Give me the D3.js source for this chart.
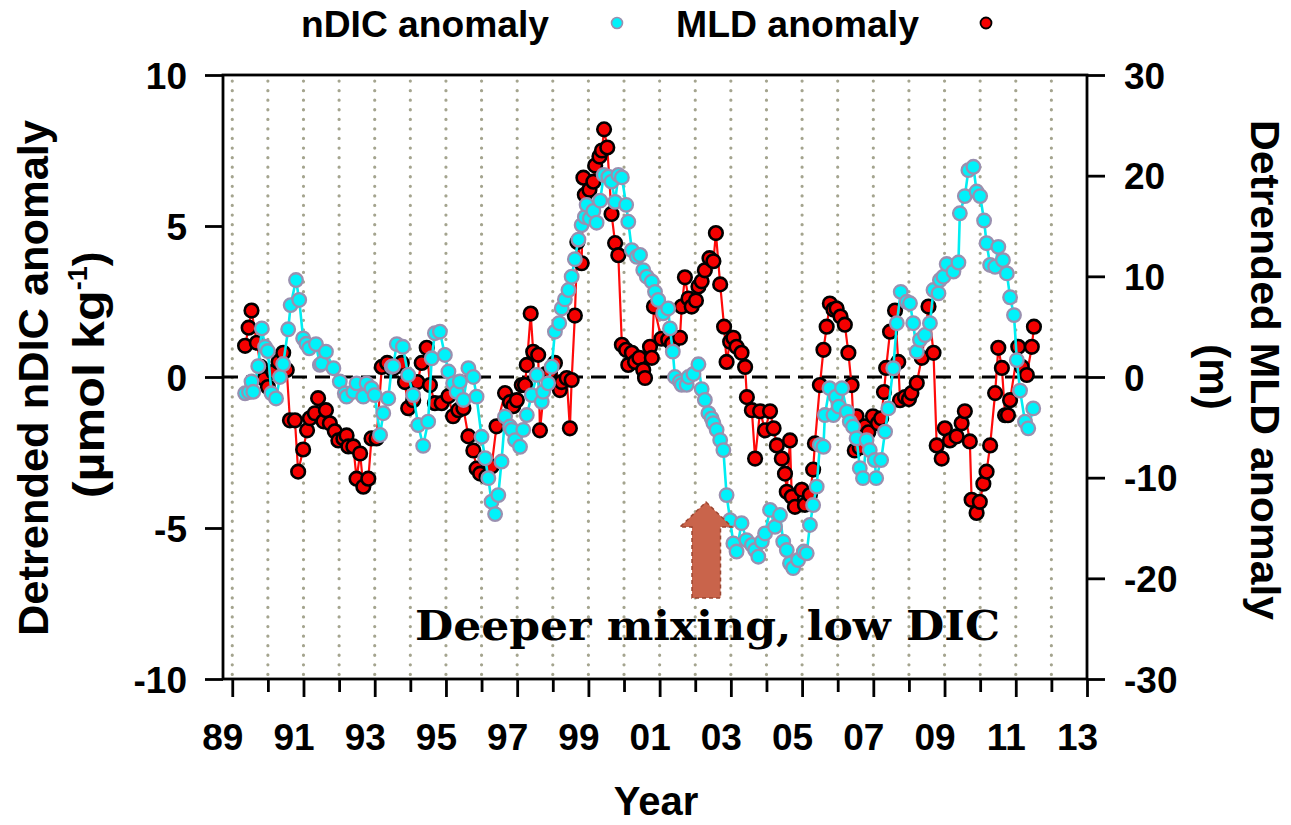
<!DOCTYPE html>
<html>
<head>
<meta charset="utf-8">
<script src="https://cdn.jsdelivr.net/npm/d3@7"></script>
<style>
  body { margin: 0; background: #ffffff; }
  svg { display: block; }
</style>
</head>
<body>
<svg id="chart" width="1291" height="825"></svg>
<script>
// Detrended nDIC anomaly (µmol kg-1): decimal year, value
const ndicYear = [
  1989.36, 1989.47, 1989.54, 1989.59, 1989.73, 1989.83, 1989.92, 1990.00, 1990.10, 1990.23,
  1990.34, 1990.43, 1990.57, 1990.64, 1990.79, 1990.88, 1990.99, 1991.08, 1991.16, 1991.35,
  1991.46, 1991.51, 1991.63, 1991.84, 1992.02, 1992.16, 1992.21, 1992.40, 1992.49, 1992.68,
  1992.77, 1992.91, 1993.00, 1993.15, 1993.24, 1993.38, 1993.48, 1993.52, 1993.62, 1993.79,
  1993.94, 1994.08, 1994.22, 1994.36, 1994.50, 1994.60, 1994.69, 1994.83, 1994.97, 1995.07,
  1995.20, 1995.30, 1995.39, 1995.49, 1995.63, 1995.77, 1995.86, 1996.00, 1996.10, 1996.19,
  1996.28, 1996.38, 1996.47, 1996.56, 1996.66, 1996.80, 1996.85, 1996.94, 1997.08, 1997.17,
  1997.27, 1997.41, 1997.55, 1997.69, 1997.73, 1997.87, 1997.97, 1998.06, 1998.18, 1998.25,
  1998.34, 1998.44, 1998.53, 1998.62, 1998.72, 1998.81, 1998.90, 1998.95, 1999.04, 1999.14,
  1999.23, 1999.33, 1999.43, 1999.56, 1999.65, 1999.75, 1999.84, 1999.94, 2000.06, 2000.12,
  2000.22, 2000.36, 2000.45, 2000.54, 2000.64, 2000.78, 2000.87, 2000.96, 2001.10, 2001.24,
  2001.29, 2001.37, 2001.43, 2001.57, 2001.62, 2001.76, 2001.81, 2001.95, 2002.09, 2002.18,
  2002.27, 2002.37, 2002.46, 2002.51, 2002.60, 2002.70, 2002.79, 2002.88, 2002.98, 2003.07,
  2003.16, 2003.30, 2003.44, 2003.59, 2003.68, 2003.77, 2003.87, 2003.96, 2004.10, 2004.24,
  2004.38, 2004.47, 2004.57, 2004.66, 2004.75, 2004.89, 2005.05, 2005.13, 2005.22, 2005.31,
  2005.41, 2005.50, 2005.60, 2005.64, 2005.77, 2005.88, 2005.95, 2006.03, 2006.12, 2006.26,
  2006.34, 2006.43, 2006.53, 2006.62, 2006.71, 2006.81, 2006.90, 2007.04, 2007.08, 2007.22,
  2007.33, 2007.42, 2007.56, 2007.66, 2007.77, 2007.94, 2008.03, 2008.12, 2008.22, 2008.31,
  2008.45, 2008.59, 2008.69, 2008.83, 2008.87, 2008.97, 2009.06, 2009.25, 2009.39, 2009.43,
  2009.57, 2009.67, 2009.81, 2009.90, 2010.00, 2010.11, 2010.18, 2010.28, 2010.42, 2010.51,
  2010.64, 2010.75, 2010.84, 2010.95, 2011.03, 2011.12, 2011.26, 2011.35, 2011.49
];
const ndicValue = [
  -0.54, -0.50, -0.15, -0.49, 0.36, 1.61, 1.00, 0.86, -0.54, -0.71,
  0.00, 0.43, 1.58, 2.38, 3.21, 2.55, 1.28, 1.10, 0.95, 1.09,
  0.40, 0.45, 0.84, 0.29, -0.15, -0.54, -0.65, -0.49, -0.21, -0.65,
  -0.21, -0.37, -0.60, -1.92, -1.20, -0.71, 0.34, 0.36, 1.09, 1.00,
  0.07, -0.60, -1.59, -2.28, -1.48, 0.62, 1.45, 1.50, 0.73, 0.18,
  -0.21, -0.49, -0.15, -0.76, 0.29, 0.00, -0.65, -1.98, -2.69, -3.35,
  -4.13, -4.54, -3.91, -2.80, -1.31, -1.64, -1.75, -2.09, -2.31, -1.75,
  -1.26, -0.60, 0.07, -0.82, -0.49, -0.21, 0.34, 1.50, 1.78, 2.27,
  2.57, 2.88, 3.32, 3.90, 4.55, 5.03, 5.30, 5.70, 5.25, 5.50,
  5.11, 5.84, 6.69, 6.63, 6.47, 5.80, 6.69, 6.61, 5.70, 5.14,
  4.20, 3.98, 4.04, 3.54, 3.32, 3.16, 2.82, 2.55, 2.11, 2.27,
  1.61, 0.84, 0.00, -0.15, -0.26, -0.26, 0.00, 0.10, 0.42, -0.40,
  -0.76, -1.20, -1.37, -1.53, -1.75, -2.09, -2.42, -3.91, -4.74, -5.51,
  -5.78, -4.84, -5.40, -5.56, -5.73, -5.95, -5.45, -5.18, -4.40, -4.96,
  -4.57, -5.45, -5.73, -6.17, -6.33, -6.06, -5.78, -5.84, -4.90, -4.24,
  -3.63, -2.25, -2.31, -1.26, -0.37, -1.26, -0.65, -0.98, -0.37, -1.15,
  -1.48, -1.64, -2.03, -3.02, -3.35, -2.09, -2.42, -2.75, -3.35, -2.75,
  -1.81, -1.04, 0.29, 1.78, 2.82, 2.49, 2.44, 1.78, 0.84, 1.23,
  1.39, 1.78, 2.88, 2.77, 3.21, 3.32, 3.74, 3.49, 3.79, 5.42,
  5.99, 6.85, 6.96, 6.14, 5.99, 5.18, 4.43, 3.71, 3.65, 4.31,
  3.87, 3.43, 2.64, 2.05, 0.56, -0.45, -1.48, -1.70, -1.04
];

// Detrended MLD anomaly (m): decimal year, value
const mldYear = [
  1989.36, 1989.46, 1989.54, 1989.69, 1989.80, 1989.90, 1990.00, 1990.15, 1990.30, 1990.43,
  1990.53, 1990.62, 1990.76, 1990.85, 1990.99, 1991.10, 1991.18, 1991.32, 1991.41, 1991.56,
  1991.63, 1991.74, 1991.88, 1991.98, 1992.12, 1992.21, 1992.26, 1992.40, 1992.49, 1992.59,
  1992.68, 1992.82, 1992.91, 1993.05, 1993.20, 1993.35, 1993.50, 1993.65, 1993.76, 1993.85,
  1993.94, 1994.08, 1994.20, 1994.32, 1994.46, 1994.55, 1994.69, 1994.88, 1995.07, 1995.20,
  1995.35, 1995.49, 1995.63, 1995.77, 1995.86, 1995.96, 1996.14, 1996.28, 1996.42, 1996.66,
  1996.80, 1996.89, 1996.99, 1997.13, 1997.22, 1997.27, 1997.38, 1997.45, 1997.59, 1997.64,
  1997.80, 1997.92, 1998.06, 1998.20, 1998.25, 1998.39, 1998.48, 1998.53, 1998.62, 1998.69,
  1998.81, 1998.86, 1998.90, 1999.03, 1999.14, 1999.19, 1999.31, 1999.38, 1999.44, 1999.53,
  1999.65, 1999.75, 1999.84, 1999.94, 2000.06, 2000.12, 2000.22, 2000.31, 2000.43, 2000.54,
  2000.59, 2000.73, 2000.78, 2000.84, 2001.05, 2001.24, 2001.35, 2001.57, 2001.62, 2001.71,
  2001.81, 2001.90, 2002.02, 2002.09, 2002.18, 2002.27, 2002.40, 2002.51, 2002.58, 2002.70,
  2002.81, 2002.88, 2002.98, 2003.07, 2003.16, 2003.30, 2003.40, 2003.45, 2003.59, 2003.68,
  2003.82, 2003.96, 2004.10, 2004.20, 2004.29, 2004.43, 2004.52, 2004.57, 2004.66, 2004.71,
  2004.80, 2004.99, 2005.08, 2005.22, 2005.31, 2005.36, 2005.50, 2005.60, 2005.69, 2005.78,
  2005.88, 2005.97, 2006.08, 2006.20, 2006.30, 2006.39, 2006.48, 2006.53, 2006.62, 2006.76,
  2006.86, 2006.99, 2007.13, 2007.22, 2007.30, 2007.36, 2007.47, 2007.61, 2007.70, 2007.75,
  2007.89, 2008.00, 2008.07, 2008.22, 2008.36, 2008.55, 2008.69, 2008.78, 2008.92, 2009.01,
  2009.15, 2009.34, 2009.48, 2009.57, 2009.71, 2009.76, 2009.90, 2009.99, 2010.09, 2010.18,
  2010.28, 2010.42, 2010.51, 2010.61, 2010.70, 2010.78, 2010.84, 2011.07, 2011.17, 2011.31,
  2011.45, 2011.51
];
const mldValue = [
  3.1, 4.9, 6.6, 3.4, 1.0, -0.2, -1.0, 0.5, 1.5, 2.4,
  0.7, -4.3, -4.3, -9.4, -7.2, -5.3, -4.1, -3.6, -2.1, -4.4,
  -3.3, -4.6, -5.4, -6.3, -6.1, -5.8, -6.9, -6.9, -10.1, -7.6,
  -10.9, -10.1, -6.1, -6.1, 1.0, 1.4, 0.8, 1.1, 1.4, -0.5,
  -3.1, -2.3, -0.5, 1.4, 2.9, -0.8, -2.6, -2.6, -1.9, -3.9,
  -3.3, -3.1, -5.9, -7.3, -9.1, -9.6, -9.9, -8.9, -4.9, -1.6,
  -2.5, -2.9, -2.3, -0.8, -0.8, 1.2, 6.3, 2.5, 2.2, -5.3,
  0.3, 0.5, 1.4, -1.3, -0.5, -0.1, -5.1, -0.3, 6.1, 13.4,
  11.3, 19.8, 18.1, 18.6, 19.4, 21.0, 21.9, 22.5, 24.6, 22.8,
  16.2, 13.3, 12.1, 3.2, 2.7, 1.2, 2.4, 1.5, 1.9, 0.7,
  -0.1, 3.0, 1.9, 7.0, 3.8, 3.7, 3.3, 3.9, 7.0, 9.9,
  7.8, 7.0, 7.6, 9.0, 9.5, 10.6, 11.8, 11.5, 14.3, 9.2,
  5.0, 1.5, 3.5, 3.9, 3.0, 2.4, 1.0, -2.0, -3.3, -8.1,
  -3.4, -5.3, -3.4, -5.1, -6.8, -8.1, -9.6, -11.4, -6.3, -11.9,
  -12.9, -11.2, -12.7, -11.7, -9.2, -6.6, -0.8, 2.7, 5.0, 7.3,
  6.7, 6.8, 6.0, 5.2, 2.4, -0.8, -7.3, -3.9, -7.0, -4.9,
  -5.5, -3.9, -4.6, -4.1, -1.5, 0.9, 4.5, 6.6, 1.5, -2.3,
  -2.0, -2.2, -1.6, -0.6, 1.9, 7.0, 2.4, -6.8, -8.1, -5.1,
  -6.3, -5.9, -4.6, -3.4, -6.4, -12.2, -13.5, -12.4, -10.6, -9.4,
  -6.8, -1.6, 2.9, 0.9, -3.8, -3.8, -2.3, 3.0, 1.0, 0.2,
  3.0, 5.0
];

// Axis ticks and labels
const leftTicks = [10, 5, 0, -5, -10];
const rightTicks = [30, 20, 10, 0, -10, -20, -30];
const yearTicks = d3.range(1989, 2014);
const yearLabels = ["89", "91", "93", "95", "97", "99", "01", "03", "05", "07", "09", "11", "13"];
const gridYears = d3.range(1989, 2013);

const ndic = ndicYear.map((t, i) => ({ t, v: ndicValue[i] }));
const mld = mldYear.map((t, i) => ({ t, v: mldValue[i] }));

const svg = d3.select("#chart");
const plot = { left: 223, right: 1087, top: 75, bottom: 679 };
const SANS = "'Liberation Sans', Arial, Helvetica, sans-serif";

const x = d3.scaleLinear().domain([1988.74, 2013]).range([plot.left, plot.right]);
const yL = d3.scaleLinear().domain([-10, 10]).range([plot.bottom, plot.top]);
const yR = d3.scaleLinear().domain([-30, 30]).range([plot.bottom, plot.top]);

// Plain hyphen-minus for negative tick labels
const plainInt = d => String(d);

// Dotted vertical year gridlines
svg.append("g")
  .selectAll("line")
  .data(gridYears)
  .join("line")
  .attr("x1", d => x(d)).attr("x2", d => x(d))
  .attr("y1", plot.top + 6).attr("y2", plot.bottom - 2)
  .attr("stroke", "#a4a48e")
  .attr("stroke-width", 3.2)
  .attr("stroke-linecap", "round")
  .attr("stroke-dasharray", "0.1 9.47");

// Zero reference line
svg.append("line")
  .attr("x1", plot.left).attr("x2", plot.right)
  .attr("y1", yL(0)).attr("y2", yL(0))
  .attr("stroke", "#000").attr("stroke-width", 3)
  .attr("stroke-dasharray", "15 8");

// MLD series (right axis)
const mldLine = d3.line().x(d => x(d.t)).y(d => yR(d.v));
svg.append("path")
  .datum(mld)
  .attr("d", mldLine)
  .attr("fill", "none")
  .attr("stroke", "#ff0a0a")
  .attr("stroke-width", 2.2);
svg.append("g")
  .selectAll("circle")
  .data(mld)
  .join("circle")
  .attr("cx", d => x(d.t)).attr("cy", d => yR(d.v))
  .attr("r", 6.8)
  .attr("fill", "#f50000")
  .attr("stroke", "#000")
  .attr("stroke-width", 2.6);

// nDIC series (left axis)
const ndicLine = d3.line().x(d => x(d.t)).y(d => yL(d.v));
svg.append("path")
  .datum(ndic)
  .attr("d", ndicLine)
  .attr("fill", "none")
  .attr("stroke", "#00eef2")
  .attr("stroke-width", 2.6);
svg.append("g")
  .selectAll("circle")
  .data(ndic)
  .join("circle")
  .attr("cx", d => x(d.t)).attr("cy", d => yL(d.v))
  .attr("r", 6.8)
  .attr("fill", "#00f2fa")
  .attr("stroke", "#9a90b0")
  .attr("stroke-width", 2.3);

// Frame
svg.append("rect")
  .attr("x", plot.left).attr("y", plot.top)
  .attr("width", plot.right - plot.left).attr("height", plot.bottom - plot.top)
  .attr("fill", "none").attr("stroke", "#000").attr("stroke-width", 2.8);

function styleAxis(g) {
  g.select(".domain").remove();
  g.selectAll(".tick line").attr("stroke", "#000").attr("stroke-width", 2.8);
  g.selectAll(".tick text")
    .attr("fill", "#000")
    .style("font-family", SANS)
    .style("font-weight", "bold")
    .style("font-size", "37px");
}

// Left axis
svg.append("g")
  .attr("transform", `translate(${plot.left},0)`)
  .call(d3.axisLeft(yL).tickValues(leftTicks).tickSize(18).tickPadding(18).tickFormat(plainInt))
  .call(styleAxis)
  .selectAll(".tick text").attr("dy", "0.36em");

// Right axis
svg.append("g")
  .attr("transform", `translate(${plot.right},0)`)
  .call(d3.axisRight(yR).tickValues(rightTicks).tickSize(18).tickPadding(19).tickFormat(plainInt))
  .call(styleAxis)
  .selectAll(".tick text").attr("dy", "0.36em");

// Bottom axis: major ticks on odd years, minor ticks on even years
const xAxisG = svg.append("g")
  .attr("transform", `translate(0,${plot.bottom})`)
  .call(d3.axisBottom(x).tickValues(yearTicks).tickSize(18).tickPadding(27)
    .tickFormat(d => (d % 2 === 1 ? yearLabels[(d - 1989) / 2] : "")))
  .call(styleAxis);
xAxisG.selectAll(".tick line").attr("y2", d => (d % 2 === 1 ? 18 : 13));
xAxisG.selectAll(".tick text").attr("dx", -10);

// Axis titles
svg.append("text")
  .attr("transform", "translate(48,378) rotate(-90)")
  .attr("text-anchor", "middle")
  .style("font-family", SANS).style("font-weight", "bold").style("font-size", "42px")
  .attr("textLength", 516).attr("lengthAdjust", "spacingAndGlyphs")
  .text("Detrended nDIC anomaly");

const unitL = svg.append("text")
  .attr("transform", "translate(104,375) rotate(-90)")
  .attr("text-anchor", "middle")
  .style("font-family", SANS).style("font-weight", "bold").style("font-size", "44px");
unitL.append("tspan")
  .attr("textLength", 208).attr("lengthAdjust", "spacingAndGlyphs")
  .text("(\u00b5mol kg");
unitL.append("tspan").attr("dy", -17).style("font-size", "27px").text("-1");
unitL.append("tspan").attr("dy", 17).text(")");

svg.append("text")
  .attr("transform", "translate(1251,370) rotate(90)")
  .attr("text-anchor", "middle")
  .style("font-family", SANS).style("font-weight", "bold").style("font-size", "41px")
  .attr("textLength", 500).attr("lengthAdjust", "spacingAndGlyphs")
  .text("Detrended MLD anomaly");

svg.append("text")
  .attr("transform", "translate(1200,377) rotate(90)")
  .attr("text-anchor", "middle")
  .style("font-family", SANS).style("font-weight", "bold").style("font-size", "42px")
  .text("(m)");

svg.append("text")
  .attr("x", 656).attr("y", 815)
  .attr("text-anchor", "middle")
  .style("font-family", SANS).style("font-weight", "bold").style("font-size", "40px")
  .text("Year");

// Legend
const legend = svg.append("g");
legend.append("text")
  .attr("x", 301).attr("y", 37)
  .style("font-family", SANS).style("font-weight", "bold").style("font-size", "36px")
  .attr("textLength", 248).attr("lengthAdjust", "spacingAndGlyphs")
  .text("nDIC anomaly");
legend.append("circle")
  .attr("cx", 617).attr("cy", 23).attr("r", 5.5)
  .attr("fill", "#00f2fa").attr("stroke", "#9a90b0").attr("stroke-width", 1.6);
legend.append("text")
  .attr("x", 676).attr("y", 37)
  .style("font-family", SANS).style("font-weight", "bold").style("font-size", "36px")
  .attr("textLength", 243).attr("lengthAdjust", "spacingAndGlyphs")
  .text("MLD anomaly");
legend.append("circle")
  .attr("cx", 986).attr("cy", 23).attr("r", 5.5)
  .attr("fill", "#f50000").attr("stroke", "#000").attr("stroke-width", 1.8);

// Annotation: upward arrow and caption
const arrowPts = [
  [706, 502], [732, 527], [720.5, 527], [720.5, 598],
  [692, 598], [692, 527], [680, 527]
];
svg.append("polygon")
  .attr("points", arrowPts.map(p => p.join(",")).join(" "))
  .attr("fill", "#c9644b")
  .attr("stroke", "#9c4631")
  .attr("stroke-width", 1.5)
  .attr("stroke-dasharray", "4 3");

svg.append("text")
  .attr("x", 415).attr("y", 640)
  .style("font-family", "'DejaVu Serif', Georgia, serif")
  .style("font-weight", "bold").style("font-size", "41px")
  .attr("textLength", 585).attr("lengthAdjust", "spacingAndGlyphs")
  .text("Deeper mixing, low DIC");
</script>
</body>
</html>
